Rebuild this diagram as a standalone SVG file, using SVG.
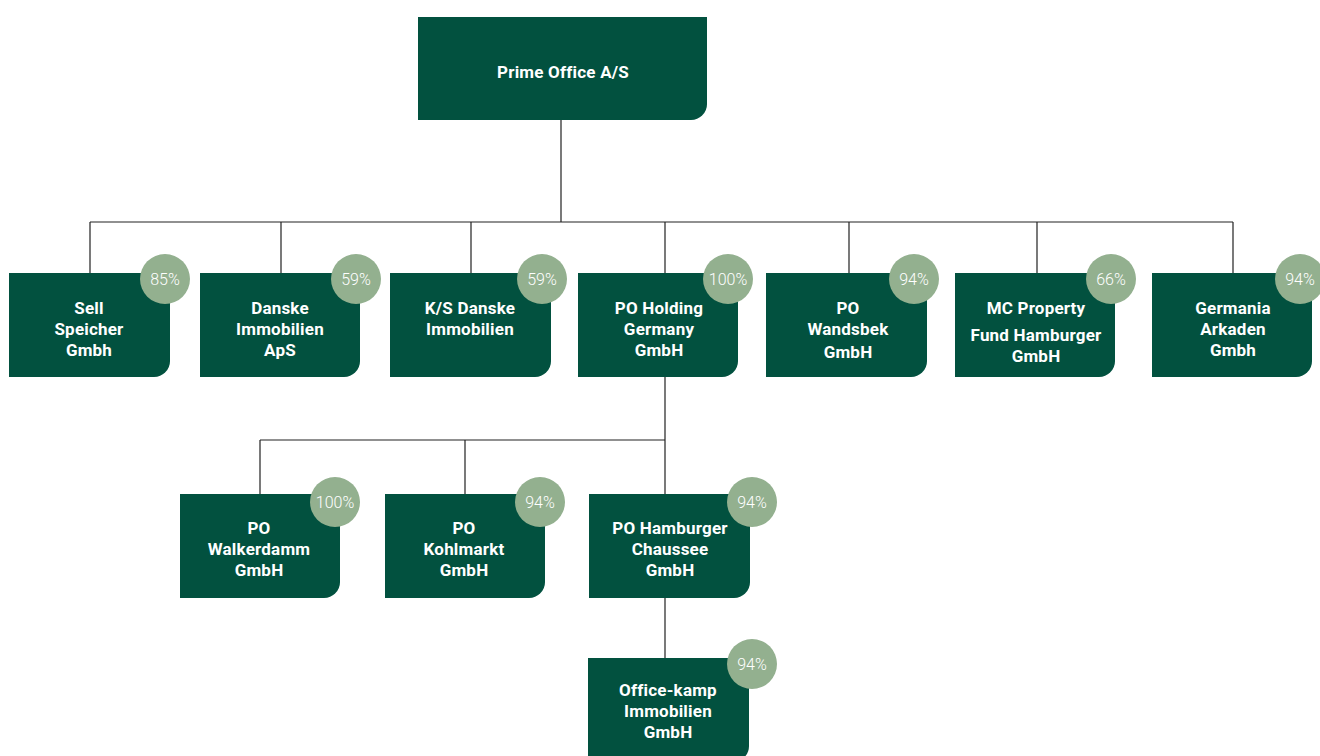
<svg xmlns="http://www.w3.org/2000/svg" width="1320" height="756" viewBox="0 0 1320 756">
<style>
.box{fill:#02513f}
.badge{fill:#93b08f}
.t{font-family:Roboto,"Liberation Sans",sans-serif;font-weight:700;font-size:17px;letter-spacing:0.2px;fill:#ffffff;text-anchor:middle}
.p{font-family:Roboto,"Liberation Sans",sans-serif;font-weight:300;font-size:16px;fill:#ffffff;text-anchor:middle}
.c{stroke:#222222;stroke-width:1.2;fill:none}
</style>
<rect width="1320" height="756" fill="#ffffff"/>
<g id="connectors">
<path class="c" d="M561 120V222M90 222H1233M90 222V273M281 222V273M471 222V273M665 222V273M849 222V273M1037 222V273M1233 222V273"/>
<path class="c" d="M665 377V440M260 440H665M260 440V494M465 440V494M665 440V494M665 598V658"/>
</g>
<g id="prime">
<path class="box" d="M418 17H707V104A16 16 0 0 1 691 120H418Z"/>
<text class="t" x="563" y="78">Prime Office A/S</text>
</g>
<g id="sell">
<path class="box" d="M9 273H170V361A16 16 0 0 1 154 377H9Z"/>
<circle class="badge" cx="165" cy="279" r="25"/>
<text class="p" x="165" y="285">85%</text>
<text class="t" x="89" y="314">Sell</text>
<text class="t" x="89" y="335">Speicher</text>
<text class="t" x="89" y="356">Gmbh</text>
</g>
<g id="danske">
<path class="box" d="M200 273H360V361A16 16 0 0 1 344 377H200Z"/>
<circle class="badge" cx="356" cy="279" r="25"/>
<text class="p" x="356" y="285">59%</text>
<text class="t" x="280" y="314">Danske</text>
<text class="t" x="280" y="335">Immobilien</text>
<text class="t" x="280" y="356">ApS</text>
</g>
<g id="ks">
<path class="box" d="M390 273H551V361A16 16 0 0 1 535 377H390Z"/>
<circle class="badge" cx="542" cy="279" r="25"/>
<text class="p" x="542" y="285">59%</text>
<text class="t" x="470" y="314">K/S Danske</text>
<text class="t" x="470" y="335">Immobilien</text>
</g>
<g id="poholding">
<path class="box" d="M578 273H738V361A16 16 0 0 1 722 377H578Z"/>
<circle class="badge" cx="728" cy="279" r="25"/>
<text class="p" x="728" y="285">100%</text>
<text class="t" x="659" y="314">PO Holding</text>
<text class="t" x="659" y="335">Germany</text>
<text class="t" x="659" y="356">GmbH</text>
</g>
<g id="wandsbek">
<path class="box" d="M766 273H927V361A16 16 0 0 1 911 377H766Z"/>
<circle class="badge" cx="914" cy="279" r="25"/>
<text class="p" x="914" y="285">94%</text>
<text class="t" x="848" y="314">PO</text>
<text class="t" x="848" y="335">Wandsbek</text>
<text class="t" x="848" y="358">GmbH</text>
</g>
<g id="mcproperty">
<path class="box" d="M955 273H1115V361A16 16 0 0 1 1099 377H955Z"/>
<circle class="badge" cx="1111" cy="279" r="25"/>
<text class="p" x="1111" y="285">66%</text>
<text class="t" x="1036" y="314">MC Property</text>
<text class="t" x="1036" y="341">Fund Hamburger</text>
<text class="t" x="1036" y="362">GmbH</text>
</g>
<g id="germania">
<path class="box" d="M1152 273H1312V361A16 16 0 0 1 1296 377H1152Z"/>
<circle class="badge" cx="1300" cy="279" r="25"/>
<text class="p" x="1300" y="285">94%</text>
<text class="t" x="1233" y="314">Germania</text>
<text class="t" x="1233" y="335">Arkaden</text>
<text class="t" x="1233" y="356">Gmbh</text>
</g>
<g id="walkerdamm">
<path class="box" d="M180 494H340V582A16 16 0 0 1 324 598H180Z"/>
<circle class="badge" cx="335" cy="502" r="25"/>
<text class="p" x="335" y="508">100%</text>
<text class="t" x="259" y="534">PO</text>
<text class="t" x="259" y="555">Walkerdamm</text>
<text class="t" x="259" y="576">GmbH</text>
</g>
<g id="kohlmarkt">
<path class="box" d="M385 494H545V582A16 16 0 0 1 529 598H385Z"/>
<circle class="badge" cx="540" cy="502" r="25"/>
<text class="p" x="540" y="508">94%</text>
<text class="t" x="464" y="534">PO</text>
<text class="t" x="464" y="555">Kohlmarkt</text>
<text class="t" x="464" y="576">GmbH</text>
</g>
<g id="hamburgerchaussee">
<path class="box" d="M589 494H750V582A16 16 0 0 1 734 598H589Z"/>
<circle class="badge" cx="752" cy="502" r="25"/>
<text class="p" x="752" y="508">94%</text>
<text class="t" x="670" y="534">PO Hamburger</text>
<text class="t" x="670" y="555">Chaussee</text>
<text class="t" x="670" y="576">GmbH</text>
</g>
<g id="officekamp">
<path class="box" d="M588 658H749V746A16 16 0 0 1 733 762H588Z"/>
<circle class="badge" cx="752" cy="664" r="25"/>
<text class="p" x="752" y="670">94%</text>
<text class="t" x="668" y="696">Office-kamp</text>
<text class="t" x="668" y="717">Immobilien</text>
<text class="t" x="668" y="738">GmbH</text>
</g>
</svg>
